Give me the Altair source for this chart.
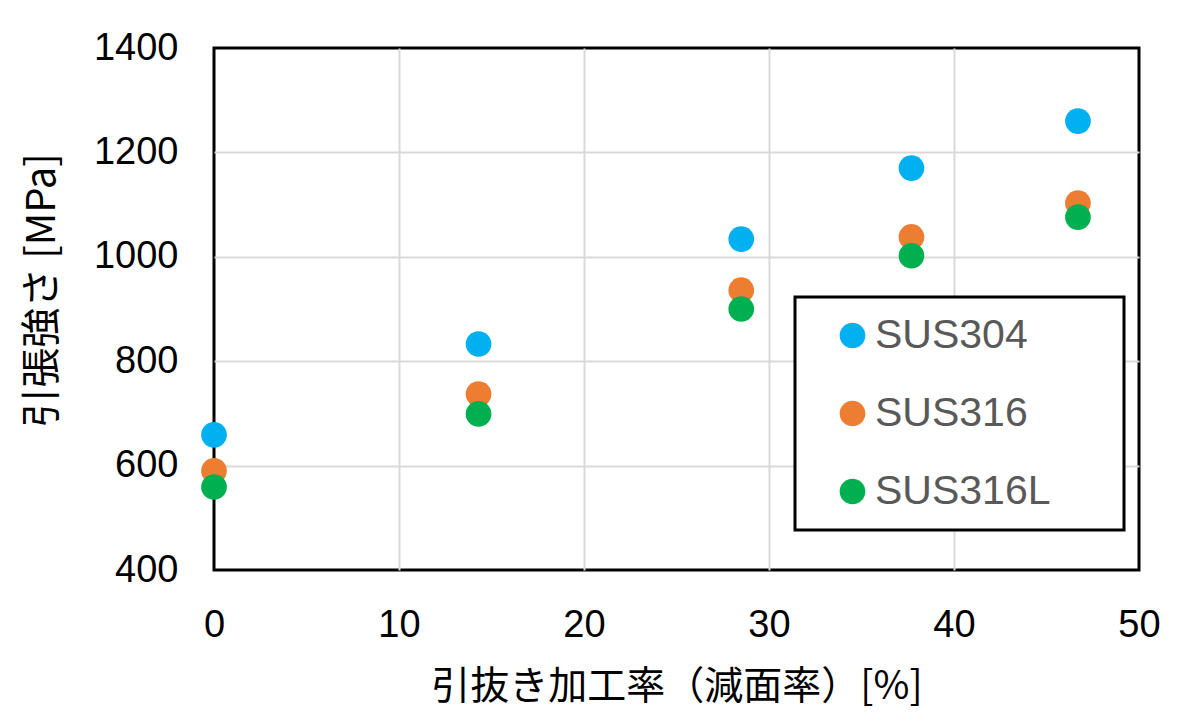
import altair as alt
import pandas as pd

reduction = [0, 14.3, 28.5, 37.7, 46.7]
sus304 = [659, 833, 1034, 1170, 1260]
sus316 = [590, 737, 936, 1038, 1103]
sus316l = [559, 699, 900, 1002, 1076]
series = ["SUS304", "SUS316", "SUS316L"]
colors = ["#00B0F0", "#ED7D31", "#00B050"]
x_ticks = [0, 10, 20, 30, 40, 50]
y_ticks = [400, 600, 800, 1000, 1200, 1400]

rows = []
for name, vals in zip(series, [sus304, sus316, sus316l]):
    for x, y in zip(reduction, vals):
        rows.append({"x": x, "y": y, "s": name})
df = pd.DataFrame(rows)

W, H = 925, 522

x_edge = alt.condition("datum.value == 0 || datum.value == 50", alt.value(0), alt.value(1))
y_edge = alt.condition("datum.value == 400 || datum.value == 1400", alt.value(0), alt.value(1))

chart = alt.Chart(df).mark_circle(size=660, opacity=1).encode(
    x=alt.X("x:Q", scale=alt.Scale(domain=[0, 50], nice=False),
            axis=alt.Axis(values=x_ticks, title="引抜き加工率（減面率）[%]",
                          grid=True, gridColor="#D9D9D9", gridWidth=2, gridOpacity=x_edge,
                          domain=False, tickSize=0, ticks=False, labelFlush=False,
                          labelPadding=36, labelFontSize=38,
                          labelFont="Liberation Sans", labelColor="black",
                          titleFont="Noto Sans CJK JP", titleFontSize=39, titleFontWeight="normal",
                          titleColor="black", titleX=W / 2, titleY=116, titleBaseline="middle",
                          titleAlign="center")),
    y=alt.Y("y:Q", scale=alt.Scale(domain=[400, 1400], nice=False),
            axis=alt.Axis(values=y_ticks, format="d", title="引張強さ [MPa]",
                          grid=True, gridColor="#D9D9D9", gridWidth=2, gridOpacity=y_edge,
                          domain=False, tickSize=0, ticks=False, labelFlush=False,
                          labelPadding=36, labelFontSize=38,
                          labelFont="Liberation Sans", labelColor="black",
                          titleFont="Noto Sans CJK JP", titleFontSize=40, titleFontWeight="normal",
                          titleColor="black", titleX=-172, titleY=242, titleAngle=-90,
                          titleBaseline="middle", titleAlign="center")),
    color=alt.Color("s:N", scale=alt.Scale(domain=series, range=colors),
                    legend=alt.Legend(title="\u00a0", titleOrient="right", titlePadding=55,
                                      orient="none", legendX=581, legendY=249,
                                      strokeColor="black", fillColor="white",
                                      padding=18, symbolOffset=19, symbolType="circle",
                                      symbolSize=660, symbolStrokeWidth=0, labelOffset=2,
                                      labelFontSize=41, labelFont="Liberation Sans",
                                      labelColor="#595959", rowPadding=36,
                                      labelLimit=400)),
    order=alt.Order("s:N"),
).properties(
    width=W, height=H,
    autosize=alt.AutoSizeParams(type="none"),
    padding={"left": 206, "top": 40, "right": 40, "bottom": 143},
).configure_view(stroke="black", strokeWidth=3).configure_legend(strokeWidth=3)

chart.save("out.html", embed_options={"renderer": "svg", "actions": False})
